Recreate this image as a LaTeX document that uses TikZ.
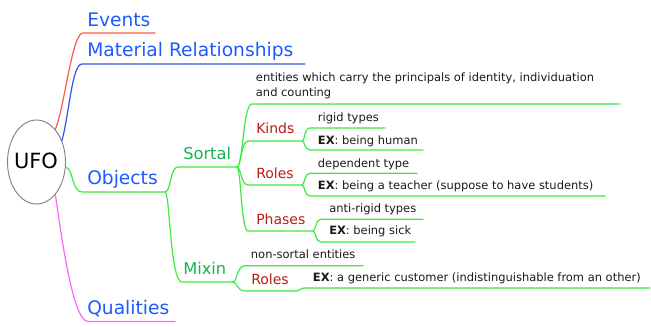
\documentclass[tikz,border=0pt]{standalone}
\usepackage{fontspec}
\setmainfont{DejaVu Sans}
\usetikzlibrary{shapes.geometric}
\definecolor{tblue}{RGB}{30,90,255}
\definecolor{tgreen}{RGB}{20,180,80}
\definecolor{tred}{RGB}{180,30,20}
\definecolor{ttext}{RGB}{25,25,25}
\definecolor{lred}{RGB}{250,90,70}
\definecolor{lblue}{RGB}{50,80,240}
\definecolor{lgreen}{RGB}{60,235,60}
\definecolor{lmag}{RGB}{255,100,255}
\definecolor{lgray}{RGB}{130,130,130}
\begin{document}
\begin{tikzpicture}[x=0.75pt,y=-0.75pt,
  lbl/.style={inner sep=0pt,anchor=base west},
  big/.style={lbl,text=tblue,font=\fontsize{14}{17}\selectfont},
  mid/.style={lbl,text=tgreen,font=\fontsize{12.2}{15}\selectfont},
  sub/.style={lbl,text=tred,font=\fontsize{10.5}{13}\selectfont},
  small/.style={lbl,text=ttext,font=\fontsize{8.6}{11.6}\selectfont},
  conn/.style={line width=0.9pt,line cap=round},
  gconn/.style={conn,draw=lgreen}]
\useasboundingbox (0,0) rectangle (651,327);
% root
\node[draw=lgray,line width=0.7pt,ellipse,minimum width=43.5pt,minimum height=63pt,inner sep=0pt] (ufo) at (36.5,162) {};
\node[inner sep=0pt,font=\fontsize{15.7}{18}\selectfont] (ufotext) at (36,161) {UFO};
% coordinates for underlines
\coordinate (evS) at (83,33);   \coordinate (evE) at (155,33);
\coordinate (mrS) at (82,64);   \coordinate (mrE) at (305,64);
\coordinate (obS) at (82,192);  \coordinate (obE) at (165,192);
\coordinate (quS) at (88,321.5);\coordinate (quE) at (175,321.5);
\coordinate (soS) at (178,167); \coordinate (soE) at (237,167);
\coordinate (miS) at (182,282); \coordinate (miE) at (233,282);
\coordinate (enS) at (252,104); \coordinate (enE) at (620,104);
\coordinate (kiS) at (248,141); \coordinate (kiE) at (302,141);
\coordinate (roS) at (248,185); \coordinate (roE) at (302,185);
\coordinate (phS) at (248,231); \coordinate (phE) at (313,231);
\coordinate (rtS) at (310,128); \coordinate (rtE) at (385,128);
\coordinate (ehS) at (310,150); \coordinate (ehE) at (423,150);
\coordinate (dtS) at (310,173.3); \coordinate (dtE) at (417,173.3);
\coordinate (etS) at (310,196); \coordinate (etE) at (605,196);
\coordinate (arS) at (321,219.3); \coordinate (arE) at (423,219.3);
\coordinate (esS) at (321,242); \coordinate (esE) at (415,242);
\coordinate (nsS) at (245,265.7); \coordinate (nsE) at (363,265.7);
\coordinate (r2S) at (245,291); \coordinate (r2E) at (297,291);
\coordinate (ecS) at (305,288); \coordinate (ecE) at (650,288);
% main branches
\draw[conn,draw=lred] (ufo.60) .. controls (65,105) and (72,33) .. (evS) -- (evE);
\draw[conn,draw=lblue] (ufo.40) .. controls (69,115) and (72,64) .. (mrS) -- (mrE);
\draw[gconn] (ufo.-10) .. controls (73,168) and (72,192) .. (obS) -- (obE);
\draw[conn,draw=lmag] (ufo.-60) .. controls (60,225) and (72,321.5) .. (quS) -- (quE);
% objects
\draw[gconn] (obE) .. controls (171,192) and (170,167) .. (soS) -- (soE);
\draw[gconn] (obE) .. controls (170,192) and (170,282) .. (miS) -- (miE);
% sortal
\draw[gconn] (soE) .. controls (243,167) and (243,104) .. (enS) -- (enE);
\draw[gconn] (soE) .. controls (241,167) and (241,141) .. (kiS) -- (kiE);
\draw[gconn] (soE) .. controls (241,167) and (241,185) .. (roS) -- (roE);
\draw[gconn] (soE) .. controls (241,167) and (241,231) .. (phS) -- (phE);
% kinds
\draw[gconn] (kiE) .. controls (305,141) and (304,128) .. (rtS) -- (rtE);
\draw[gconn] (kiE) .. controls (305,141) and (304,150) .. (ehS) -- (ehE);
% roles
\draw[gconn] (roE) .. controls (305,185) and (304,173.3) .. (dtS) -- (dtE);
\draw[gconn] (roE) .. controls (305,185) and (304,196) .. (etS) -- (etE);
% phases
\draw[gconn] (phE) .. controls (316,231) and (315,219.3) .. (arS) -- (arE);
\draw[gconn] (phE) .. controls (316,231) and (315,242) .. (esS) -- (esE);
% mixin
\draw[gconn] (miE) .. controls (237,282) and (237,265.7) .. (nsS) -- (nsE);
\draw[gconn] (miE) .. controls (237,282) and (237,291) .. (r2S) -- (r2E);
\draw[gconn] (r2E) .. controls (300,291) and (300,288) .. (ecS) -- (ecE);
% labels
\node[big] (events) at (87,26.5) {Events};
\node[big] (matrel) at (87,56.5) {Material Relationships};
\node[big] (objects) at (87,185) {Objects};
\node[big] (qualities) at (87,315) {Qualities};
\node[mid] (sortal) at (183,160) {Sortal};
\node[mid] (mixin) at (183,275) {Mixin};
\node[sub] (kinds) at (256,133.3) {Kinds};
\node[sub] (roles) at (256,178.3) {Roles};
\node[sub] (phases) at (256,224.3) {Phases};
\node[sub] (roles2) at (251,284.3) {Roles};
\node[small,align=left] (entities) at (255.7,96.5) {entities which carry the principals of identity, individuation\\and counting};
\node[small] (rigid) at (317.7,121.7) {rigid types};
\node[small] (exhuman) at (317.7,145) {\textbf{EX}: being human};
\node[small] (dep) at (317.7,167.7) {dependent type};
\node[small] (exteach) at (317.7,189.3) {\textbf{EX}: being a teacher (suppose to have students)};
\node[small] (anti) at (329,212.7) {anti-rigid types};
\node[small] (exsick) at (329,235) {\textbf{EX}: being sick};
\node[small] (nonsortal) at (250.7,258.3) {non-sortal entities};
\node[small] (excust) at (312.7,281.7) {\textbf{EX}: a generic customer (indistinguishable from an other)};
\end{tikzpicture}
\end{document}
